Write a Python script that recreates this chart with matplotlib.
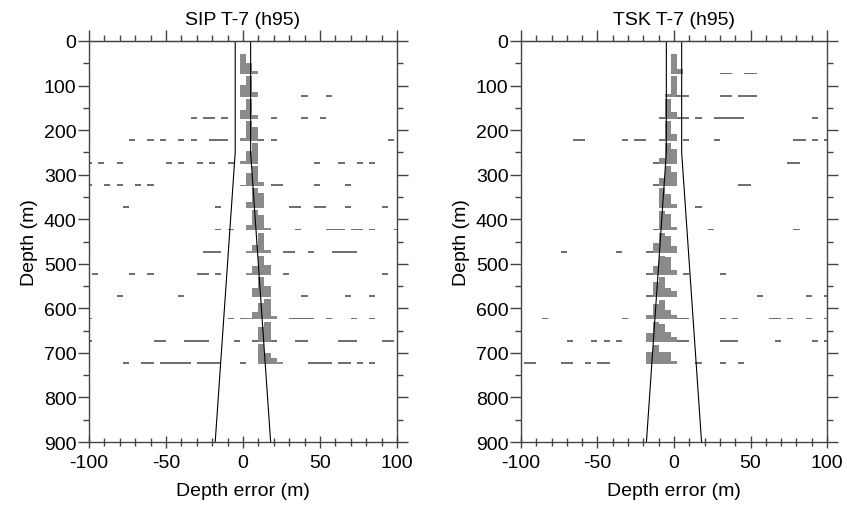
import matplotlib
matplotlib.use('Agg')
import matplotlib.pyplot as plt
from matplotlib.ticker import MultipleLocator

plt.rcParams['font.family'] = ['Liberation Sans', 'DejaVu Sans']
plt.rcParams['font.size'] = 14
plt.rcParams['axes.unicode_minus'] = False

# depth of each histogram baseline (m)
depth_levels = [75, 125, 175, 225, 275, 325, 375, 425, 475, 525, 575, 625, 675, 725]

# histogram bars per depth level: {bin centre (m): bar height (m)}
sip_bars = {
    75: {0: 46, 4: 25, 8: 8},
    125: {0: 26, 4: 46, 8: 10},
    175: {0: 21, 4: 45, 8: 9},
    225: {0: 8, 4: 46, 8: 31},
    275: {0: 6, 4: 29, 8: 46},
    325: {0: 2, 4: 28, 8: 44, 12: 8},
    375: {0: 1, 4: 13, 8: 45, 12: 33},
    425: {4: 13, 8: 46, 12: 35, 16: 6},
    475: {4: 4, 8: 18, 12: 44, 16: 6},
    525: {4: 5, 8: 21, 12: 43, 16: 23},
    575: {8: 20, 12: 45, 16: 25},
    625: {4: 4, 8: 16, 12: 36, 16: 45, 20: 8},
    675: {12: 33, 16: 44},
    725: {12: 44, 16: 25, 20: 13, 24: 5},
}
# single-count bins (the short dashes)
sip_dashes = {
    75: [],
    125: [40, 56],
    175: [-32, -24, -20, -12, 20, 40, 52],
    225: [-72, -60, -52, -40, -32, -20, -16, -12, 12, 20, 96],
    275: [-100, -92, -80, -48, -40, -28, -20, -8, 48, 64, 76, 84],
    325: [-100, -88, -80, -68, -60, 20, 24, 48, 68],
    375: [-76, -16, 32, 36, 48, 52, 68, 92],
    425: [-16, -8, 36, 56, 60, 64, 72, 76, 84, 100],
    475: [-24, -20, -16, 28, 32, 44, 60, 64, 68, 72],
    525: [-96, -72, -60, -28, -24, -16, 28, 92],
    575: [-80, -40, 40, 68, 84],
    625: [-100, -8, 0, 32, 36, 40, 44, 56, 72, 84],
    675: [-100, -56, -52, -36, -32, -28, -24, -4, 8, 20, 36, 40, 64, 68, 72, 92, 96],
    725: [-76, -64, -60, -52, -48, -44, -40, -36, -28, -24, -20, -16, 0,
          44, 48, 52, 56, 64, 68, 76, 84],
}

tsk_bars = {
    75: {0: 46, 4: 13},
    125: {-4: 7, 0: 46},
    175: {-4: 45, 0: 15},
    225: {-4: 45, 0: 16},
    275: {-8: 13, -4: 46, 0: 33},
    325: {-8: 17, -4: 45, 0: 32},
    375: {-8: 46, -4: 31, 0: 9},
    425: {-8: 44, -4: 37, 0: 8},
    475: {-12: 21, -8: 43, -4: 37, 0: 16},
    525: {-12: 21, -8: 43, -4: 40, 0: 12},
    575: {-12: 34, -8: 45, -4: 20, 0: 13},
    625: {-16: 11, -12: 35, -8: 44, -4: 22, 0: 11},
    675: {-16: 19, -12: 44, -8: 40, -4: 22, 0: 10},
    725: {-16: 26, -12: 43, -8: 26, -4: 28, 0: 6},
}
tsk_dashes = {
    75: [32, 36, 48, 52],
    125: [4, 8, 32, 36, 44, 48, 52],
    175: [-8, 4, 8, 16, 28, 32, 36, 40, 44, 92],
    225: [-64, -60, -32, -24, -20, -8, 8, 28, 80, 84, 92, 100],
    275: [-12, 76, 80],
    325: [-12, 44, 48],
    375: [16],
    425: [-12, 24, 80],
    475: [-72, -36, -16],
    525: [-16, 8, 32],
    575: [-16, 56, 88, 100],
    625: [-84, -32, 4, 8, 32, 40, 64, 68, 76, 88, 100],
    675: [-68, -52, -44, -36, 4, 8, 32, 36, 40, 68, 92, 100],
    725: [-96, -92, -72, -68, -56, -48, -44, 16, 32, 44],
}

# tolerance envelope (max of 5 m or 2 % of depth)
tol_depth = [0, 250, 900]
tol_err = [5, 5, 18]

BIN_W = 4
DASH_H = 4
BAR_COLOR = '#8a8a8a'
DASH_COLOR = '#707070'
FRAME = '#444444'


def draw_panel(ax, title, bars, dashes):
    for d in depth_levels:
        b = bars[d]
        ax.bar(list(b.keys()), [-h for h in b.values()], bottom=d, width=BIN_W,
               color=BAR_COLOR, linewidth=0)
        if dashes[d]:
            ax.bar(dashes[d], [-DASH_H] * len(dashes[d]), bottom=d, width=BIN_W,
                   color=DASH_COLOR, linewidth=0)
    ax.plot(tol_err, tol_depth, color='black', lw=0.8)
    ax.plot([-e for e in tol_err], tol_depth, color='black', lw=0.8)

    ax.set_xlim(-100, 100)
    ax.set_ylim(900, 0)
    ax.set_title(title, fontsize=14, pad=12)
    ax.set_xlabel('Depth error (m)', fontsize=14, labelpad=8)
    ax.set_ylabel('Depth (m)', fontsize=14, labelpad=4)
    ax.xaxis.set_major_locator(MultipleLocator(50))
    ax.xaxis.set_minor_locator(MultipleLocator(10))
    ax.yaxis.set_major_locator(MultipleLocator(100))
    ax.yaxis.set_minor_locator(MultipleLocator(50))
    ax.tick_params(axis='x', which='major', direction='inout', length=9, width=1,
                   color=FRAME, pad=4, labelsize=14)
    ax.tick_params(axis='x', which='minor', direction='inout', length=6, width=1,
                   color=FRAME)
    ax.tick_params(axis='y', which='major', direction='out', length=8, width=1,
                   color=FRAME, pad=1, labelsize=14, right=True)
    ax.tick_params(axis='y', which='minor', direction='out', length=4, width=1,
                   color=FRAME, right=True)
    for s in ax.spines.values():
        s.set_color(FRAME)
        s.set_linewidth(1)

    top = ax.secondary_xaxis('top')
    top.xaxis.set_major_locator(MultipleLocator(50))
    top.xaxis.set_minor_locator(MultipleLocator(10))
    top.tick_params(which='major', direction='out', length=8, width=1, color=FRAME,
                    labeltop=False)
    top.tick_params(which='minor', direction='out', length=4, width=1, color=FRAME)
    top.spines['top'].set_color(FRAME)


fig = plt.figure(figsize=(8.47, 5.06), dpi=100)
ax1 = fig.add_axes([0.105, 0.1245, 0.3636, 0.7925])
ax2 = fig.add_axes([0.615, 0.1245, 0.3615, 0.7925])

draw_panel(ax1, 'SIP T-7 (h95)', sip_bars, sip_dashes)
draw_panel(ax2, 'TSK T-7 (h95)', tsk_bars, tsk_dashes)

fig.savefig('out.png', dpi=100)
